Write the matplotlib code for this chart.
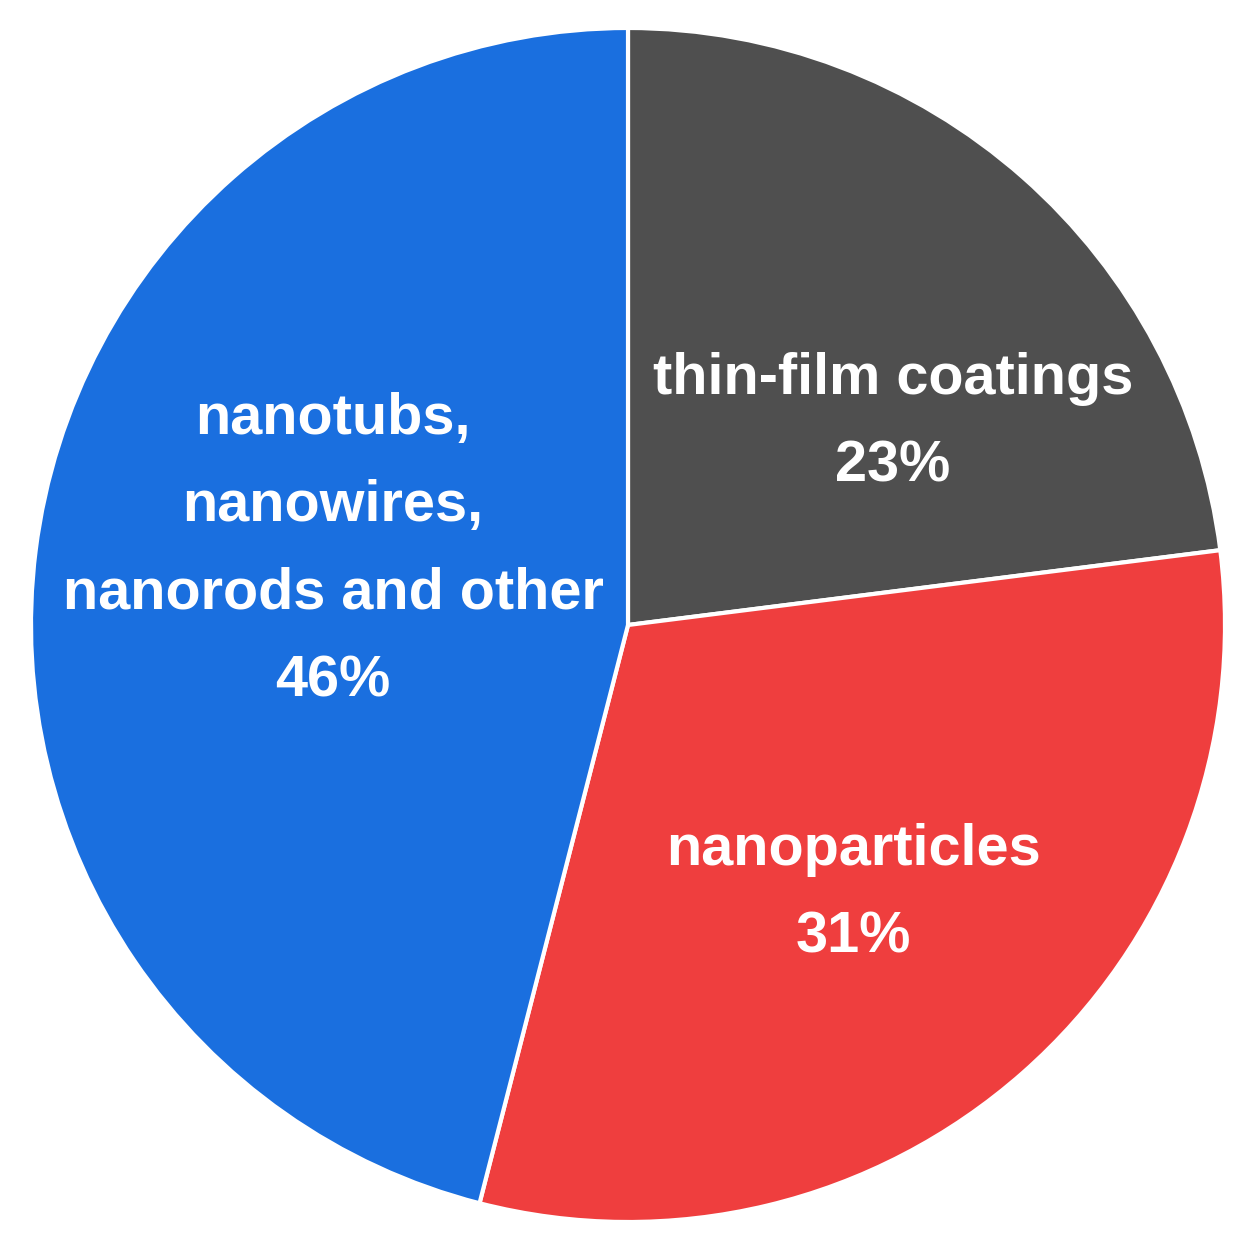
import matplotlib
matplotlib.use("Agg")
import matplotlib.pyplot as plt

categories = ["thin-film coatings", "nanoparticles", "nanotubs,\nnanowires,\nnanorods and other"]
values = [23, 31, 46]
colors = ["#4f4f4f", "#ef3e3e", "#1a6fdf"]
label_px = [(893, 423), (853, 894), (333, 550)]

W, H, cx, cy, R = 1257, 1254, 628, 625, 597
fig = plt.figure(figsize=(W/100, H/100), dpi=100)
ax = fig.add_axes([0, 0, 1, 1])
ax.pie(values, colors=colors, startangle=90, counterclock=False, radius=1,
       wedgeprops=dict(edgecolor="white", linewidth=3))
ax.set_xlim(-cx/R, (W-cx)/R)
ax.set_ylim(-(H-cy)/R, cy/R)
ax.set_aspect("equal")
ax.axis("off")
for cat, v, (px, py) in zip(categories, values, label_px):
    ax.text((px-cx)/R, (cy-py)/R, f"{cat}\n{v}%", ha="center", va="center",
            color="white", fontsize=41.5, fontweight="bold", family="Liberation Sans",
            linespacing=1.8)
fig.savefig("out.png", dpi=100, facecolor="white")
